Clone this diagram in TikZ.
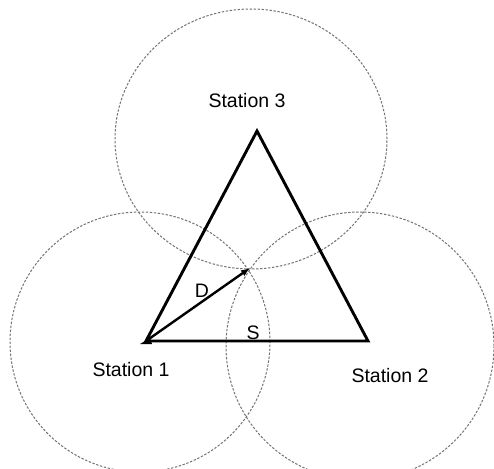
\documentclass[tikz,border=0pt]{standalone}
\usepackage{fontspec}
\setmainfont{Liberation Sans}
\usetikzlibrary{arrows.meta}
\begin{document}
\begin{tikzpicture}[x=1pt,y=-1pt,
  rangecirc/.style={draw=black!55, line width=1pt, dash pattern=on 2.4pt off 1.6pt},
  edge/.style={draw=black, line width=2.9pt, line join=miter},
  lbl/.style={font=\fontsize{19.5pt}{22pt}\selectfont, inner sep=0pt, anchor=center}]
\useasboundingbox (0,0) rectangle (494,468);
\fill[white] (0,0) rectangle (494,468);
\draw[rangecirc] (251,139) ellipse [x radius=136pt, y radius=130pt];
\draw[rangecirc] (140,342) ellipse [x radius=130pt, y radius=130pt];
\draw[rangecirc] (360,346) ellipse [x radius=134pt, y radius=134pt];
\coordinate (s1) at (146,341);
\coordinate (s2) at (368,341);
\coordinate (s3) at (257,131);
\coordinate (p) at (250,268);
\draw[edge] (s1) -- (s2) -- (s3) -- cycle;
\draw[black, line width=2.4pt, -{Latex[length=9pt,width=7pt]}] (s1) -- (p);
\fill[black] (s1) ++(-6,3) -- ++(12,0) -- ++(-2,-6) -- cycle;
\node[lbl] (l3) at (247,101) {Station 3};
\node[lbl] (l1) at (131,370) {Station 1};
\node[lbl] (l2) at (390,376) {Station 2};
\node[lbl] (ld) at (202,291) {D};
\node[lbl] (ls) at (253,333) {S};
\end{tikzpicture}
\end{document}
